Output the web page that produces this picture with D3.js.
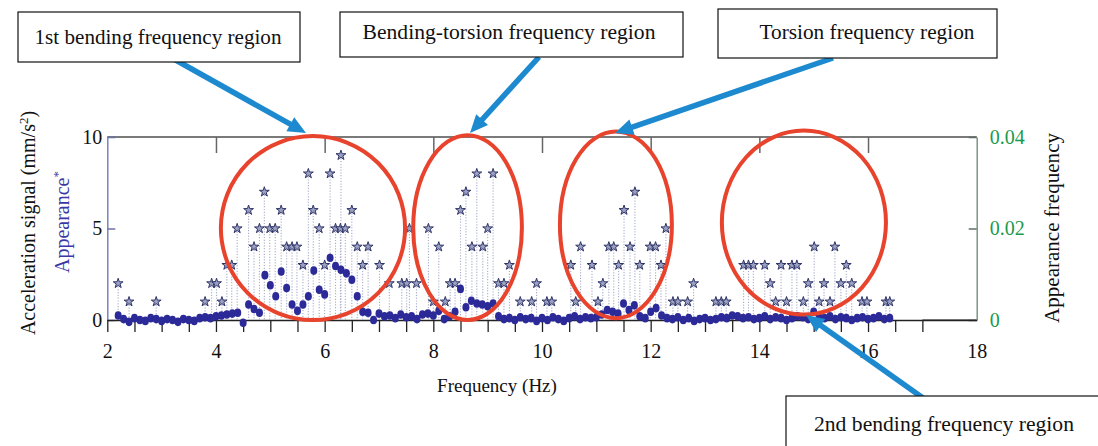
<!DOCTYPE html>
<html>
<head>
<meta charset="utf-8">
<script src="https://cdn.jsdelivr.net/npm/d3@7"></script>
<style>
  body { margin: 0; background: #fff; }
  svg { display: block; }
  text { font-family: "Liberation Serif", "DejaVu Serif", serif; }
</style>
</head>
<body>
<svg id="chart" width="1098" height="446"></svg>
<script>
// Acceleration spectrum sampled every 0.1 Hz starting at 2.2 Hz (mm/s^2)
const accStartHz = 2.2;
const accStepHz = 0.1;
const accSignal = [
  0.25, 0.05, -0.1, 0.1, 0.0, -0.05, 0.1, 0.05,                 // 2.2 - 2.9
  -0.05, 0.05, 0.0, -0.1, 0.05, 0.0, -0.05, 0.1, 0.15, 0.1,      // 3.x
  0.2, 0.25, 0.3, 0.35, 0.4, -0.15, 0.85, 0.6, 0.4, 2.45,        // 4.x
  1.9, 1.3, 2.65, 1.75, 0.85, 0.5, 0.85, 1.3, 2.7, 1.65,         // 5.x
  1.4, 3.4, 2.95, 2.75, 2.55, 2.2, 1.3, 0.45, 0.4, 0.0,          // 6.x
  0.35, 0.2, 0.25, 0.1, 0.3, 0.15, 0.2, 0.05, 0.3, 0.35,         // 7.x
  0.25, 0.5, 0.05, 0.2, 0.45, 1.7, 0.7, 1.05, 0.9, 0.85,         // 8.x
  0.75, 0.9, 0.2, 0.05, 0.1, 0.0, 0.15, 0.05, 0.1, -0.05,        // 9.x
  0.1, 0.0, 0.15, 0.05, -0.05, 0.1, 0.2, 0.05, 0.15, 0.1,        // 10.x
  0.15, 0.3, 0.55, 0.45, 0.35, 0.9, 0.55, 0.8, 0.2, 0.1,         // 11.x
  0.45, 0.65, 0.25, 0.1, 0.05, 0.15, 0.0, 0.1, -0.05, 0.05,      // 12.x
  0.1, 0.0, 0.05, 0.15, 0.1, 0.25, 0.2, 0.1, 0.15, 0.05,         // 13.x
  0.1, 0.2, 0.05, 0.15, 0.1, 0.0, 0.1, 0.2, 0.15, 0.05,          // 14.x
  0.45, 0.15, 0.1, 0.2, 0.05, 0.15, 0.1, 0.0, 0.1, 0.15,         // 15.x
  0.05, 0.1, 0.2, 0.05, 0.1                                      // 16.0 - 16.4
];

// Appearance counts of identified frequencies (Hz, count)
const starHz = [
  2.2, 2.4, 2.9, 3.8, 3.92, 4.01, 4.11, 4.2, 4.29, 4.39, 4.6, 4.7, 4.8, 4.89, 4.99,
  5.09, 5.2, 5.3, 5.4, 5.49, 5.6, 5.7, 5.79, 5.9, 6.0, 6.1, 6.2, 6.29, 6.3, 6.38,
  6.5, 6.6, 6.7, 6.8, 7.01, 7.19, 7.42, 7.51, 7.56, 7.69, 7.91, 8.0, 8.1, 8.22, 8.31,
  8.4, 8.5, 8.6, 8.71, 8.8, 8.91, 9.0, 9.1, 9.2, 9.3, 9.4, 9.6, 9.81, 9.9, 10.09,
  10.18, 10.53, 10.62, 10.71, 10.92, 11.03, 11.12, 11.23, 11.32, 11.41, 11.51, 11.62, 11.71, 11.8, 11.99,
  12.09, 12.19, 12.28, 12.41, 12.5, 12.68, 12.79, 13.2, 13.3, 13.39, 13.71, 13.8, 13.89, 14.1, 14.2,
  14.3, 14.4, 14.5, 14.6, 14.69, 14.81, 14.9, 15.01, 15.1, 15.19, 15.3, 15.39, 15.5, 15.6, 15.7,
  15.89, 15.98, 16.33, 16.4
];
const starCount = [
  2, 1, 1, 1, 2, 2, 1, 3, 3, 5, 6, 4, 5, 7, 5,
  5, 6, 4, 4, 4, 3, 8, 6, 5, 3, 8, 5, 5, 9, 5,
  6, 4, 3, 4, 3, 2, 2, 2, 5, 2, 5, 1, 4, 1, 2,
  2, 6, 7, 4, 8, 4, 5, 8, 2, 2, 3, 1, 1, 2, 1,
  1, 3, 1, 4, 3, 1, 2, 4, 4, 3, 6, 4, 7, 3, 4,
  4, 3, 5, 1, 1, 1, 2, 1, 1, 1, 3, 3, 3, 3, 2,
  1, 3, 1, 3, 3, 1, 2, 4, 1, 2, 1, 4, 2, 3, 2,
  1, 1, 1, 1
];

const xTicks = [2, 4, 6, 8, 10, 12, 14, 16, 18];
const xMinorTicks = [2, 2.5, 3, 3.5, 4, 4.5, 5, 5.5, 6, 6.5, 7, 7.5, 8, 8.5, 9, 9.5, 10,
                     10.5, 11, 11.5, 12, 12.5, 13, 13.5, 14, 14.5, 15, 15.5, 16, 16.5, 17];
const xTopTicks = [4, 6, 8, 10, 12, 14, 16];
const yLeftTicks = [0, 5, 10];
const yRightTicks = [0, 0.02, 0.04];

// Highlighted regions: frequency span (Hz) and acceleration span
const regionNames = [
  "1st bending frequency region",
  "Bending-torsion frequency region",
  "Torsion frequency region",
  "2nd bending frequency region"
];
const regionHz = [[4.09, 7.48], [7.63, 9.63], [10.33, 12.39], [13.31, 16.33]];
const regionAcc = [[0, 10.05], [0, 10.1], [0.1, 10.3], [0.3, 10.35]];

// ---------------------------------------------------------------------------
const svg = d3.select("#chart");
const plot = { left: 107.3, right: 976.7, top: 137, bottom: 320 };

const x = d3.scaleLinear().domain([2, 18]).range([plot.left, plot.right]);
const y = d3.scaleLinear().domain([0, 10]).range([plot.bottom, plot.top]);
const yR = d3.scaleLinear().domain([0, 0.04]).range([plot.bottom, plot.top]);

const acc = accSignal.map((v, i) => ({ hz: +(accStartHz + i * accStepHz).toFixed(2), v }));
const stars = starHz.map((hz, i) => ({ hz, n: starCount[i] }));

// Frame
svg.append("line").attr("x1", plot.left).attr("x2", plot.right)
  .attr("y1", plot.top).attr("y2", plot.top)
  .attr("stroke", "#7a7a7a").attr("stroke-width", 2);
svg.append("line").attr("x1", x(17)).attr("x2", plot.right)
  .attr("y1", plot.bottom).attr("y2", plot.bottom)
  .attr("stroke", "#6b6b6b").attr("stroke-width", 1.5);

// Left axis
const gL = svg.append("g").attr("transform", `translate(${plot.left},0)`)
  .call(d3.axisLeft(y).tickValues(yLeftTicks).tickFormat(d3.format("d"))
    .tickSizeInner(-8).tickSizeOuter(0).tickPadding(5));
gL.select(".domain").attr("stroke", "#7c82bd").attr("stroke-width", 1.5);
gL.selectAll(".tick line").attr("stroke", "#6b70a8").attr("stroke-width", 1.5);
gL.selectAll("text").attr("font-size", 20).attr("fill", "#111");

// Right axis
const gR = svg.append("g").attr("transform", `translate(${plot.right},0)`)
  .call(d3.axisRight(yR).tickValues(yRightTicks)
    .tickFormat(d => d === 0 ? "0" : d.toFixed(2))
    .tickSizeInner(-8).tickSizeOuter(0).tickPadding(13));
gR.select(".domain").attr("stroke", "#7d9585").attr("stroke-width", 1.5);
gR.selectAll(".tick line").attr("stroke", "#5f6f64").attr("stroke-width", 1.5);
gR.selectAll("text").attr("font-size", 20).attr("fill", "#1a9a4c");

// Top major ticks
const gT = svg.append("g").attr("transform", `translate(0,${plot.top})`)
  .call(d3.axisBottom(x).tickValues(xTopTicks).tickSize(16).tickFormat(""));
gT.select(".domain").remove();
gT.selectAll(".tick line").attr("stroke", "#666").attr("stroke-width", 1.5);

// Bottom axis: minor ticks and line
const gBm = svg.append("g").attr("transform", `translate(0,${plot.bottom})`)
  .call(d3.axisBottom(x).tickValues(xMinorTicks).tickSizeInner(12).tickSizeOuter(0).tickFormat(""));
gBm.select(".domain").attr("stroke", "#222").attr("stroke-width", 1.5);
gBm.selectAll(".tick line").attr("stroke", "#222").attr("stroke-width", 1.3);

// Bottom labels
const gB = svg.append("g").attr("transform", `translate(0,${plot.bottom})`)
  .call(d3.axisBottom(x).tickValues(xTicks).tickSize(0).tickPadding(24).tickFormat(d3.format("d")));
gB.select(".domain").remove();
gB.selectAll("text").attr("font-size", 20).attr("fill", "#111");

// Stems
svg.append("g").selectAll("line").data(stars).join("line")
  .attr("x1", d => x(d.hz)).attr("x2", d => x(d.hz))
  .attr("y1", d => y(d.n) + 3).attr("y2", y(0))
  .attr("stroke", "#a9aecb").attr("stroke-width", 1.1)
  .attr("stroke-dasharray", "1.2,1.6");

// Stars
const starSym = d3.symbol().type(d3.symbolStar).size(30);
svg.append("g").selectAll("path").data(stars).join("path")
  .attr("d", starSym)
  .attr("transform", d => `translate(${x(d.hz)},${y(d.n)})`)
  .attr("fill", "#9aa1c2").attr("stroke", "#2f3468").attr("stroke-width", 1);

// Acceleration dots
svg.append("g").selectAll("ellipse").data(acc).join("ellipse")
  .attr("cx", d => x(d.hz)).attr("cy", d => y(d.v))
  .attr("rx", 3.5).attr("ry", 4.3)
  .attr("fill", "#2b2a98");

// Region ellipses
svg.append("g").selectAll("ellipse").data(regionHz).join("ellipse")
  .attr("cx", (d) => (x(d[0]) + x(d[1])) / 2)
  .attr("cy", (d, i) => (y(regionAcc[i][0]) + y(regionAcc[i][1])) / 2)
  .attr("rx", d => (x(d[1]) - x(d[0])) / 2)
  .attr("ry", (d, i) => (y(regionAcc[i][0]) - y(regionAcc[i][1])) / 2)
  .attr("fill", "none").attr("stroke", "#e8432c").attr("stroke-width", 4);

// Axis titles
svg.append("text")
  .attr("transform", "translate(28,223) rotate(-90)")
  .attr("text-anchor", "middle").attr("dy", "0.35em")
  .attr("font-size", 20).attr("fill", "#111")
  .call(t => {
    t.append("tspan").text("Acceleration signal (mm/s");
    t.append("tspan").attr("baseline-shift", "super").attr("font-size", 13).text("2");
    t.append("tspan").text(")");
  });
svg.append("text")
  .attr("transform", "translate(62,222) rotate(-90)")
  .attr("text-anchor", "middle").attr("dy", "0.35em")
  .attr("font-size", 20).attr("fill", "#3b38a6")
  .call(t => {
    t.append("tspan").text("Appearance");
    t.append("tspan").attr("baseline-shift", "super").attr("font-size", 13).text("*");
  });
svg.append("text")
  .attr("transform", "translate(1052,228) rotate(-90)")
  .attr("text-anchor", "middle").attr("dy", "0.35em")
  .attr("font-size", 20).attr("fill", "#111")
  .attr("textLength", 190).attr("lengthAdjust", "spacingAndGlyphs")
  .text("Appearance frequency");
svg.append("text")
  .attr("x", 497).attr("y", 385).attr("dy", "0.35em")
  .attr("text-anchor", "middle").attr("font-size", 19).attr("fill", "#111")
  .text("Frequency (Hz)");

// Callout arrows
const arrowColor = "#1d8ad0";
const arrows = [
  { from: [172, 58], to: [306, 133] },
  { from: [539, 57], to: [470, 133] },
  { from: [833, 58], to: [615, 133] },
  { from: [923, 398], to: [806, 315] }
];
arrows.forEach(a => {
  const [x0, y0] = a.from, [x1, y1] = a.to;
  const dx = x1 - x0, dy = y1 - y0, len = Math.hypot(dx, dy);
  const ux = dx / len, uy = dy / len, px = -uy, py = ux;
  const headL = 18, headW = 8;
  const bx = x1 - ux * headL, by = y1 - uy * headL;
  svg.append("line").attr("x1", x0).attr("y1", y0).attr("x2", bx + ux * 2).attr("y2", by + uy * 2)
    .attr("stroke", arrowColor).attr("stroke-width", 5.5);
  svg.append("path")
    .attr("d", `M${x1},${y1}L${bx + px * headW},${by + py * headW}L${bx - px * headW},${by - py * headW}Z`)
    .attr("fill", arrowColor);
});

// Callout boxes
const boxes = [
  { x: 18, y: 12, w: 282, h: 50 },
  { x: 340, y: 12, w: 343, h: 45 },
  { x: 718, y: 9, w: 279, h: 49 },
  { x: 786, y: 396, w: 320, h: 60 }
];
const boxTextY = [37, 32, 32, 424];
const boxTextX = [158, 509, 867, 944];
const boxTextW = [247, 293, 215, 260];
boxes.forEach((b, i) => {
  svg.append("rect").attr("x", b.x).attr("y", b.y).attr("width", b.w).attr("height", b.h)
    .attr("fill", "#fff").attr("stroke", "#111").attr("stroke-width", 1.2);
  svg.append("text").attr("x", boxTextX[i]).attr("y", boxTextY[i]).attr("dy", "0.35em")
    .attr("text-anchor", "middle").attr("font-size", 20).attr("fill", "#111")
    .attr("textLength", boxTextW[i]).attr("lengthAdjust", "spacingAndGlyphs")
    .text(regionNames[i]);
});
</script>
</body>
</html>
